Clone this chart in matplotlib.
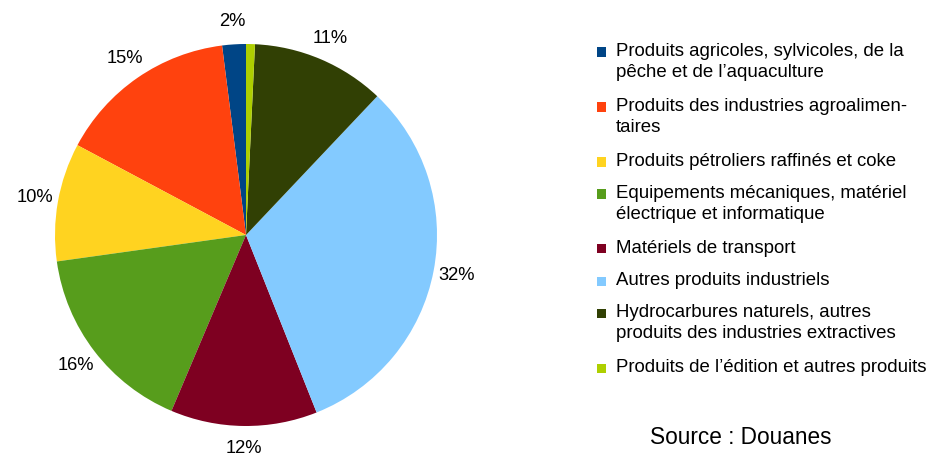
import matplotlib.pyplot as plt
from matplotlib.patches import Rectangle

plt.rcParams['font.family'] = ['Liberation Sans', 'DejaVu Sans']

# Données (parts en %)
categories = [
    "Produits agricoles, sylvicoles, de la\npêche et de l’aquaculture",
    "Produits des industries agroalimen-\ntaires",
    "Produits pétroliers raffinés et coke",
    "Equipements mécaniques, matériel\nélectrique et informatique",
    "Matériels de transport",
    "Autres produits industriels",
    "Hydrocarbures naturels, autres\nproduits des industries extractives",
    "Produits de l’édition et autres produits",
]
values = [2.0, 15.2, 10.0, 16.4, 12.4, 31.9, 11.3, 0.75]
colors = ["#004586", "#ff420e", "#ffd320", "#579d1c",
          "#7e0021", "#83caff", "#314004", "#aecf00"]
min_label = 1.5  # la part "édition" n'a pas d'étiquette

W, H = 933, 457
fig = plt.figure(figsize=(W / 100, H / 100), dpi=100)

# --- Camembert
cx, cy, r = 246, 235, 191
ax = fig.add_axes([(cx - r) / W, (H - cy - r) / H, 2 * r / W, 2 * r / H])
ax.pie(values, colors=colors, startangle=90, counterclock=True,
       autopct=lambda p: f"{p:.0f}%" if p >= min_label else "",
       pctdistance=1.12, wedgeprops=dict(linewidth=0),
       textprops=dict(fontsize=13.2, color="#000000"))
ax.set_xlim(-1, 1)
ax.set_ylim(-1, 1)
ax.set_aspect("equal")
ax.axis("off")

# --- Légende (manuelle pour régler les interlignes)
x_box, x_txt = 597, 616
y = 52
line_h, gap = 23, 9
for lab, col in zip(categories, colors):
    n = lab.count("\n") + 1
    fig.add_artist(Rectangle((x_box / W, 1 - (y + 4.5) / H), 9 / W, 9 / H,
                             transform=fig.transFigure, color=col, lw=0))
    fig.text(x_txt / W, 1 - (y - 9) / H, lab, fontsize=13.4, va="top",
             ha="left", linespacing=1.27, color="#000000")
    y += n * line_h + gap

fig.text(650 / W, 1 - 438 / H, "Source : Douanes", fontsize=16.3,
         va="center", ha="left", color="#000000")

fig.savefig("out.png", dpi=100)
